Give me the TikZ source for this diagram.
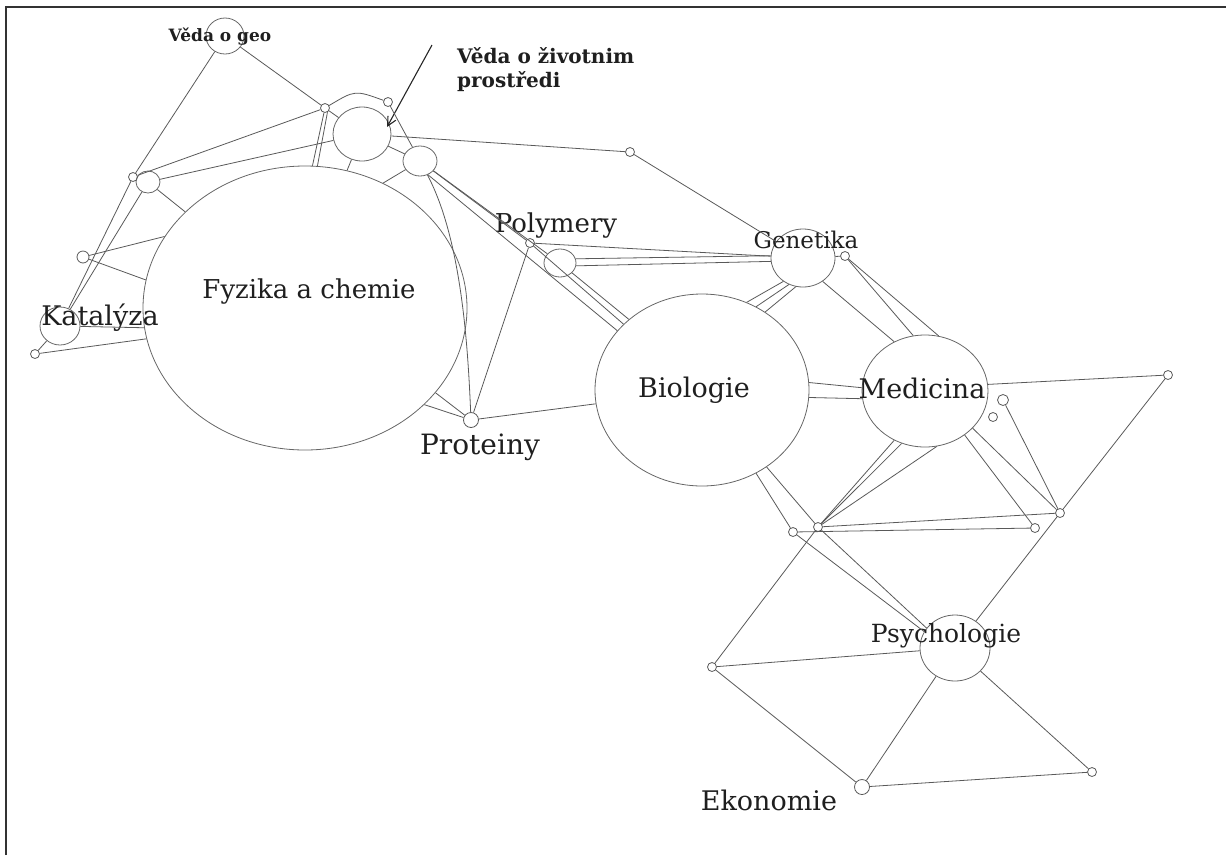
\documentclass[tikz,border=0pt]{standalone}
\usepackage{fontspec}
\setmainfont{DejaVu Serif}
\usetikzlibrary{shapes.geometric,arrows.meta}
\begin{document}
\begin{tikzpicture}[x=1pt,y=-1pt,
  ed/.style={draw=black!65, line width=0.8pt},
  nd/.style={ellipse, draw=black!60, line width=0.8pt, inner sep=0pt},
  dot/.style={circle, draw=black!65, line width=0.8pt, inner sep=0pt, minimum size=9pt},
  lab/.style={font=\fontsize{26}{28}\selectfont, text=black!88, inner sep=0pt}]
\useasboundingbox (0,0) rectangle (1226,855);
\draw[black!80, line width=1.3pt] (6,855) -- (6,7) -- (1226,7);

% big nodes
\node[nd, minimum width=324pt, minimum height=284pt] (fyz) at (305,308) {};
\node[nd, minimum width=214pt, minimum height=192pt] (bio) at (702,390) {};
\node[nd, minimum width=126pt, minimum height=112pt] (med) at (925,391) {};
\node[nd, minimum width=64pt, minimum height=58pt] (gen) at (803,258) {};
\node[nd, minimum width=70pt, minimum height=66pt] (psy) at (955,648) {};
\node[nd, minimum width=58pt, minimum height=54pt] (veda) at (362,134) {};
\node[nd, minimum width=34pt, minimum height=30pt] (D) at (420,161) {};
\node[nd, minimum width=38pt, minimum height=36pt] (geo) at (225,36) {};
\node[nd, minimum width=40pt, minimum height=38pt] (kat) at (60,326) {};
\node[nd, minimum width=24pt, minimum height=22pt] (AC) at (148,182) {};
\node[nd, minimum width=32pt, minimum height=28pt] (PC) at (560,263) {};

% small nodes
\node[dot] (A) at (133,177) {};
\node[dot] (B) at (325,108) {};
\node[dot] (C) at (388,102) {};
\node[dot] (E) at (630,152) {};
\node[dot] (P) at (530,243) {};
\node[dot, minimum size=15pt] (prot) at (471,420) {};
\node[dot] (G2) at (845,256) {};
\node[dot] (n1168) at (1168,375) {};
\node[dot, minimum size=11pt] (m1) at (1003,400) {};
\node[dot] (m2) at (993,417) {};
\node[dot] (s1060) at (1060,513) {};
\node[dot] (s1035) at (1035,528) {};
\node[dot] (s793) at (793,532) {};
\node[dot] (s818) at (818,527) {};
\node[dot] (s712) at (712,667) {};
\node[dot, minimum size=15pt] (eko) at (862,787) {};
\node[dot] (s1092) at (1092,772) {};
\node[dot, minimum size=12pt] (k1) at (83,257) {};
\node[dot] (k2) at (35,354) {};

% labels
\node[lab] (lfyz) at (309,292) {Fyzika a chemie};
\node[lab, font=\fontsize{27}{29}\selectfont] (lbio) at (694,390) {Biologie};
\node[lab, font=\fontsize{27}{29}\selectfont] (lmed) at (922,388) {Medicina};
\node[lab, font=\fontsize{23}{25}\selectfont] (lgen) at (806,240) {Genetika};
\node[lab] (lpol) at (556,226) {Polymery};
\node[lab, font=\fontsize{28}{30}\selectfont] (lprot) at (480,447) {Proteiny};
\node[lab, font=\fontsize{25}{27}\selectfont] (lpsy) at (946,636) {Psychologie};
\node[lab, font=\fontsize{27}{29}\selectfont] (leko) at (769,800) {Ekonomie};
\node[lab, font=\fontsize{27}{29}\selectfont] (lkat) at (100,318) {Katalýza};
\node[lab, font=\bfseries\fontsize{17}{19}\selectfont] (lgeo) at (220,37) {Věda o geo};
\node[lab, font=\bfseries\fontsize{20}{23}\selectfont, anchor=west] (lvz1) at (457,56) {Věda o životnim};
\node[lab, font=\bfseries\fontsize{20}{23}\selectfont, anchor=west] (lvz2) at (457,82) {prostředi};

% arrow
\coordinate (atail) at (432,45);
\coordinate (ahead) at (387,127);
\draw[black!85, line width=1.1pt, -{Straight Barb[length=9pt,width=9pt]}] (atail) -- (ahead);

% top-left cluster
\draw[ed] (geo) -- (A);
\draw[ed] (geo) -- (B);
\draw[ed] (A) -- (B);
\draw[ed] (AC) -- (veda);
\draw[ed] (A) -- (kat);
\draw[ed] (AC) -- (kat);
\draw[ed] (AC) -- (fyz);
\draw[ed] (k1) -- (fyz.153);
\draw[ed] (k1) -- (fyz.170);
\draw[ed] (kat) -- (fyz.187);
\draw[ed] (k2) -- (fyz.191);
\draw[ed] (k2) -- (kat);
\draw[ed] (B) -- (fyz.87);
\draw[ed] (B.-60) -- (fyz.85);
\draw[ed] (B) -- (veda);
\draw[ed] (B) .. controls (355,90) .. (C);
\draw[ed] (C) -- (D);
\draw[ed] (veda) -- (D);
\draw[ed] (veda) -- (fyz.73);
\draw[ed] (D) -- (fyz.58);
\draw[ed] (veda) -- (E);
\draw[ed] (E) -- (gen);
\draw[ed] (D) -- (P);
\draw[ed] (D) -- (PC);
\draw[ed] (D.-60) -- (bio.145);
\draw[ed] (D) .. controls (462,240) and (468,350) .. (prot);
\draw[ed] (P) -- (prot);
\draw[ed] (prot) -- (fyz.-33);
\draw[ed] (prot) -- (fyz.-39);
\draw[ed] (prot) -- (bio);

% polymery / genetika
\draw[ed] (P) -- (gen);
\draw[ed] (PC.15) -- (gen.176);
\draw[ed] (PC.-10) -- (gen.186);
\draw[ed] (P) -- (bio.140);
\draw[ed] (PC) -- (bio.136);
\draw[ed] (gen.-130) -- (bio.63);
\draw[ed] (gen.-118) -- (bio.57);
\draw[ed] (gen.-104) -- (bio.51);
\draw[ed] (gen.-50) -- (med.122);
\draw[ed] (G2) -- (gen);
\draw[ed] (G2) -- (med.102);
\draw[ed] (G2) -- (med.76);

% biologie / medicina
\draw[ed] (bio.4) -- (med.177);
\draw[ed] (bio.-4) -- (med.-173);
\draw[ed] (med.6) -- (n1168);
\draw[ed] (m1) -- (s1060);
\draw[ed] (n1168) -- (s1060);
\draw[ed] (med.-38) -- (s1060);
\draw[ed] (med.-48) -- (s1035);
\draw[ed] (med.-122) -- (s818);
\draw[ed] (med.-114) -- (s818);
\draw[ed] (med.-78) -- (s818);
\draw[ed] (bio.-50) -- (s818);
\draw[ed] (bio.-57) -- (s793);
\draw[ed] (s793) -- (s1035);
\draw[ed] (s818) -- (s1060);

% lower cluster
\draw[ed] (s818) -- (psy.145);
\draw[ed] (s793) -- (psy.152);
\draw[ed] (s712) -- (s818);
\draw[ed] (s712) -- (psy);
\draw[ed] (s712) -- (eko);
\draw[ed] (eko) -- (psy);
\draw[ed] (eko) -- (s1092);
\draw[ed] (psy) -- (s1092);
\draw[ed] (s1060) -- (psy);
\end{tikzpicture}
\end{document}
